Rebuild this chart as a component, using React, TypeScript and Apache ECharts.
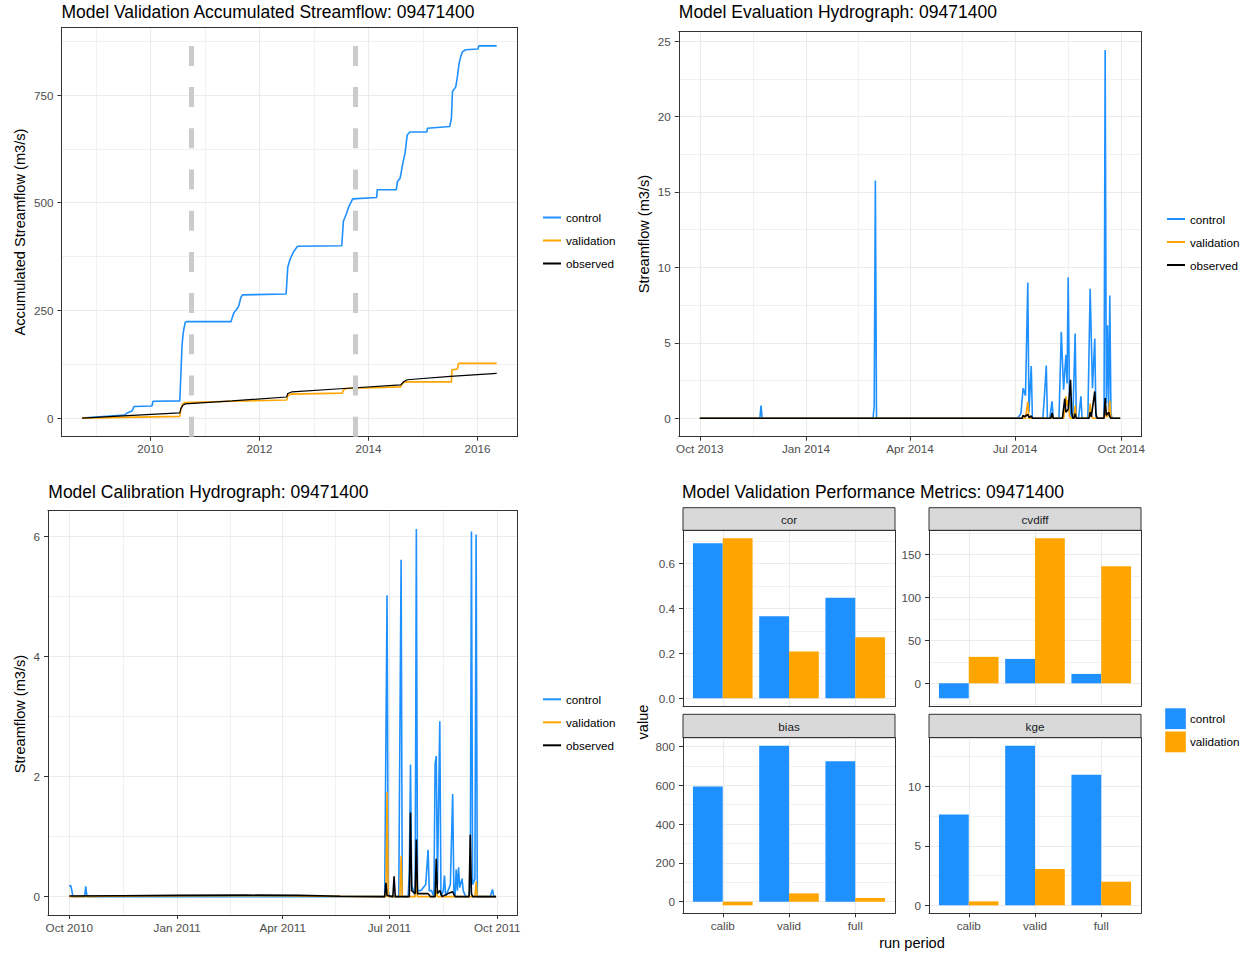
import React, { useEffect, useRef } from 'react';
import * as echarts from 'echarts';

const FONT = "'Liberation Sans', Arial, Helvetica, sans-serif";
const BLUE = '#1E90FF';
const ORANGE = '#FFA500';
const BLACK = '#000000';
const BORDER = '#333333';
const GRID = '#EBEBEB';
const TICK = '#4D4D4D';

// ---------- Panel 1: accumulated streamflow [decimal year, m3/s] ----------
const accumControl: [number, number][] = [
  [2008.75, 0], [2009.52, 7], [2009.58, 12], [2009.67, 17], [2009.70, 27], [2010.03, 28], [2010.05, 39],
  [2010.54, 40], [2010.56, 100], [2010.58, 165], [2010.60, 195], [2010.62, 210], [2010.64, 222], [2010.66, 224],
  [2011.48, 224], [2011.53, 244], [2011.58, 252], [2011.62, 260], [2011.66, 280], [2011.69, 286], [2012.49, 288],
  [2012.52, 350], [2012.56, 368], [2012.62, 385], [2012.70, 399], [2013.51, 400], [2013.54, 457], [2013.60, 476],
  [2013.64, 491], [2013.71, 509], [2014.15, 512], [2014.16, 530], [2014.51, 530], [2014.53, 549], [2014.58, 557],
  [2014.63, 592], [2014.67, 615], [2014.71, 657], [2014.76, 664], [2015.07, 664], [2015.08, 673], [2015.49, 677],
  [2015.52, 696], [2015.54, 758], [2015.60, 769], [2015.63, 792], [2015.66, 823], [2015.69, 839], [2015.72, 850],
  [2015.78, 855], [2016.01, 857], [2016.02, 864], [2016.35, 864],
];
const accumValidation: [number, number][] = [
  [2008.75, 0], [2010.54, 4], [2010.56, 20], [2010.59, 33], [2010.64, 36], [2011.5, 39], [2012.50, 42],
  [2012.52, 52], [2012.57, 55.6], [2013.52, 58], [2013.54, 65], [2013.58, 68.7], [2014.59, 72.5], [2014.62, 80],
  [2014.67, 84], [2015.52, 84], [2015.53, 112], [2015.63, 114], [2015.65, 127], [2016.35, 127],
];
const accumObserved: [number, number][] = [
  [2008.75, 0], [2009.5, 5], [2010.54, 12], [2010.56, 22], [2010.60, 30], [2010.64, 33], [2011.5, 40],
  [2012.50, 49], [2012.52, 57], [2012.60, 61], [2013.55, 68.7], [2014.59, 77], [2014.65, 85], [2014.71, 89],
  [2015.5, 97], [2016.35, 104],
];
const periodBreaks = [2010.75, 2013.75];
const accumXTicks = [2010, 2012, 2014, 2016];
const accumXMinor = [2009, 2011, 2013, 2015];
const accumYTicks = [0, 250, 500, 750];
const accumYMinor = [125, 375, 625, 875];

// ---------- Panel 2: evaluation hydrograph [date, m3/s] ----------
const evalControl: [string, number][] = [
  ['2013-10-01', 0], ['2013-11-22', 0], ['2013-11-23', 0.84], ['2013-11-24', 0],
  ['2014-02-28', 0], ['2014-03-01', 0.8], ['2014-03-02', 15.76], ['2014-03-03', 0],
  ['2014-07-03', 0], ['2014-07-06', 0.3], ['2014-07-08', 2.0], ['2014-07-10', 1.5], ['2014-07-12', 9.0],
  ['2014-07-13', 0.4], ['2014-07-15', 3.47], ['2014-07-16', 0],
  ['2014-07-25', 0], ['2014-07-26', 1.0], ['2014-07-27', 2.2], ['2014-07-28', 3.5], ['2014-07-29', 0],
  ['2014-07-31', 0], ['2014-08-02', 1.12], ['2014-08-03', 0],
  ['2014-08-08', 0], ['2014-08-10', 5.73], ['2014-08-12', 1.9], ['2014-08-14', 4.2], ['2014-08-15', 2.3],
  ['2014-08-16', 9.35], ['2014-08-17', 2.0], ['2014-08-18', 0.3], ['2014-08-20', 0], ['2014-08-22', 5.62],
  ['2014-08-23', 0], ['2014-08-25', 0], ['2014-08-27', 1.45], ['2014-08-28', 0],
  ['2014-09-02', 0], ['2014-09-04', 8.58], ['2014-09-06', 2.0], ['2014-09-08', 5.29], ['2014-09-09', 0],
  ['2014-09-16', 0], ['2014-09-17', 24.4], ['2014-09-18', 1.0], ['2014-09-19', 6.17], ['2014-09-20', 0.5],
  ['2014-09-21', 8.14], ['2014-09-22', 0.3], ['2014-09-23', 0], ['2014-09-30', 0],
];
const evalValidation: [string, number][] = [
  ['2013-10-01', 0], ['2014-07-10', 0], ['2014-07-12', 1.1], ['2014-07-13', 0],
  ['2014-08-01', 0], ['2014-08-02', 0.25], ['2014-08-03', 0],
  ['2014-08-12', 0], ['2014-08-14', 1.45], ['2014-08-15', 0.8], ['2014-08-16', 1.2], ['2014-08-17', 0.2], ['2014-08-18', 0],
  ['2014-08-21', 0], ['2014-08-22', 0.84], ['2014-08-23', 0],
  ['2014-09-03', 0], ['2014-09-04', 0.97], ['2014-09-05', 0.2], ['2014-09-06', 0],
  ['2014-09-16', 0], ['2014-09-17', 0.5], ['2014-09-18', 0.1], ['2014-09-20', 0.2], ['2014-09-21', 1.16],
  ['2014-09-22', 0], ['2014-09-30', 0],
];
const evalObserved: [string, number][] = [
  ['2013-10-01', 0], ['2014-07-07', 0], ['2014-07-08', 0.2], ['2014-07-09', 0.1], ['2014-07-12', 0.25],
  ['2014-07-13', 0.05], ['2014-07-15', 0.15], ['2014-07-16', 0],
  ['2014-08-01', 0], ['2014-08-02', 0.35], ['2014-08-03', 0],
  ['2014-08-11', 0], ['2014-08-13', 1.3], ['2014-08-14', 0.4], ['2014-08-16', 0.6], ['2014-08-18', 2.55],
  ['2014-08-19', 0.4], ['2014-08-20', 0], ['2014-08-21', 0], ['2014-08-22', 0.3], ['2014-08-23', 0],
  ['2014-09-03', 0], ['2014-09-04', 0.4], ['2014-09-05', 0.1], ['2014-09-08', 1.78], ['2014-09-09', 0.3], ['2014-09-10', 0],
  ['2014-09-16', 0], ['2014-09-17', 1.34], ['2014-09-18', 0.2], ['2014-09-20', 0.4], ['2014-09-21', 0.1],
  ['2014-09-22', 0], ['2014-09-30', 0],
];
const evalStart = '2013-10-01';
const evalEnd = '2014-09-30';
const evalXTicks = ['2013-10-01', '2014-01-01', '2014-04-01', '2014-07-01', '2014-10-01'];
const evalXMinor = ['2013-11-16', '2014-02-15', '2014-05-16', '2014-08-16'];
const evalYTicks = [0, 5, 10, 15, 20, 25];
const evalYMinor = [2.5, 7.5, 12.5, 17.5, 22.5];

// ---------- Panel 3: calibration hydrograph [date, m3/s] ----------
const calControl: [string, number][] = [
  ['2010-10-01', 0.17], ['2010-10-02', 0.19], ['2010-10-03', 0.12], ['2010-10-04', 0],
  ['2010-10-14', 0], ['2010-10-15', 0.17], ['2010-10-16', 0],
  ['2011-06-27', 0], ['2011-06-29', 5.02], ['2011-06-30', 0.1], ['2011-07-01', 0],
  ['2011-07-09', 0], ['2011-07-11', 5.61], ['2011-07-12', 0],
  ['2011-07-17', 0], ['2011-07-18', 0.4], ['2011-07-19', 2.2], ['2011-07-20', 0.2], ['2011-07-23', 0],
  ['2011-07-24', 6.12], ['2011-07-25', 0.1], ['2011-07-28', 0.1], ['2011-07-30', 0.15], ['2011-08-01', 0.2],
  ['2011-08-03', 0.78], ['2011-08-04', 0.1], ['2011-08-06', 0.1], ['2011-08-08', 0], ['2011-08-09', 2.21],
  ['2011-08-10', 2.34], ['2011-08-11', 0.2], ['2011-08-13', 2.92], ['2011-08-14', 0], ['2011-08-16', 0.1],
  ['2011-08-17', 0.35], ['2011-08-18', 0], ['2011-08-20', 0.1], ['2011-08-22', 0.2], ['2011-08-24', 1.71],
  ['2011-08-25', 0.1], ['2011-08-26', 0], ['2011-08-27', 0.45], ['2011-08-28', 0.1], ['2011-08-29', 0.49],
  ['2011-08-30', 0.15], ['2011-09-01', 0.3], ['2011-09-02', 0.1], ['2011-09-04', 0],
  ['2011-09-07', 0], ['2011-09-08', 0.2], ['2011-09-09', 6.08], ['2011-09-10', 0.2], ['2011-09-12', 0.3],
  ['2011-09-13', 6.03], ['2011-09-14', 0], ['2011-09-25', 0], ['2011-09-27', 0.12], ['2011-09-28', 0],
  ['2011-09-30', 0],
];
const calValidation: [string, number][] = [
  ['2010-10-01', 0], ['2010-12-01', 0.01], ['2011-02-01', 0.015], ['2011-04-01', 0.015], ['2011-06-01', 0],
  ['2011-06-28', 0], ['2011-06-29', 1.74], ['2011-06-30', 0],
  ['2011-07-10', 0], ['2011-07-11', 0.68], ['2011-07-12', 0],
  ['2011-07-23', 0], ['2011-07-24', 0.3], ['2011-07-25', 0],
  ['2011-08-09', 0], ['2011-08-10', 0.1], ['2011-08-11', 0],
  ['2011-09-12', 0], ['2011-09-13', 0.25], ['2011-09-14', 0], ['2011-09-30', 0],
];
const calObserved: [string, number][] = [
  ['2010-10-01', 0.01], ['2010-11-15', 0.015], ['2011-01-01', 0.02], ['2011-03-01', 0.025], ['2011-04-15', 0.02],
  ['2011-05-20', 0.005], ['2011-06-27', 0], ['2011-06-28', 0.23], ['2011-06-29', 0.02],
  ['2011-07-04', 0], ['2011-07-05', 0.34], ['2011-07-06', 0],
  ['2011-07-18', 0], ['2011-07-19', 1.4], ['2011-07-20', 0.1], ['2011-07-23', 0.05], ['2011-07-24', 0.95],
  ['2011-07-25', 0.05], ['2011-08-03', 0.05], ['2011-08-05', 0], ['2011-08-09', 0], ['2011-08-10', 0.63],
  ['2011-08-11', 0.05], ['2011-08-13', 0.1], ['2011-08-15', 0], ['2011-08-20', 0.05], ['2011-08-24', 0.08],
  ['2011-08-26', 0], ['2011-09-07', 0], ['2011-09-08', 1.03], ['2011-09-09', 0.05], ['2011-09-10', 0],
  ['2011-09-30', 0],
];
const calStart = '2010-10-01';
const calEnd = '2011-09-30';
const calXTicks = ['2010-10-01', '2011-01-01', '2011-04-01', '2011-07-01', '2011-10-01'];
const calXMinor = ['2010-11-16', '2011-02-15', '2011-05-16', '2011-08-16'];
const calYTicks = [0, 2, 4, 6];
const calYMinor = [1, 3, 5];

// ---------- Panel 4: performance metrics ----------
const runPeriods = ['calib', 'valid', 'full'];
const corControl = [0.69, 0.365, 0.447];
const corValidation = [0.712, 0.208, 0.272];
const cvdiffControl = [-17.5, 28.4, 10.9];
const cvdiffValidation = [30.8, 169, 136.5];
const biasControl = [594, 804, 724];
const biasValidation = [-18.6, 43, 19];
const kgeControl = [7.63, 13.4, 10.97];
const kgeValidation = [0.33, 3.04, 1.98];
const corTicks = [0, 0.2, 0.4, 0.6];
const corMinor = [0.1, 0.3, 0.5, 0.7];
const cvdiffTicks = [0, 50, 100, 150];
const cvdiffMinor = [-25, 25, 75, 125, 175];
const biasTicks = [0, 200, 400, 600, 800];
const biasMinor = [100, 300, 500, 700];
const kgeTicks = [0, 5, 10];
const kgeMinor = [2.5, 7.5, 12.5];

const MONTHS = ['Jan', 'Feb', 'Mar', 'Apr', 'May', 'Jun', 'Jul', 'Aug', 'Sep', 'Oct', 'Nov', 'Dec'];
const DAY = 86400000;
const ts = (s: string) => Date.parse(s + 'T00:00:00Z');
const fmtMonth = (v: number) => {
  const d = new Date(Math.round(v / DAY) * DAY);
  return MONTHS[d.getUTCMonth()] + ' ' + d.getUTCFullYear();
};
const toTs = (arr: [string, number][]) => arr.map(([d, v]) => [ts(d), v]);

function expand(lo: number, hi: number) {
  const r = hi - lo;
  return { min: lo - 0.05 * r, max: hi + 0.05 * r };
}
function dataRange(vals: number[]) {
  return expand(Math.min(0, ...vals), Math.max(0, ...vals));
}

interface AxisSpec {
  min: number;
  max: number;
  major: number[];
  minor: number[];
  fmt?: (v: number) => string;
  show: boolean;
}

function buildOption() {
  const grids: any[] = [];
  const xAxes: any[] = [];
  const yAxes: any[] = [];
  const series: any[] = [];
  const graphic: any[] = [];

  const labelStyle = { color: TICK, fontSize: 11.7, fontFamily: FONT };

  function addPanel(box: { l: number; t: number; w: number; h: number }, xs: AxisSpec, ys: AxisSpec) {
    const gi = grids.length;
    grids.push({ left: box.l, top: box.t, width: box.w, height: box.h, containLabel: false });
    const xi = xAxes.length;
    xAxes.push({
      type: 'value', gridIndex: gi, min: xs.min, max: xs.max, position: 'bottom',
      axisLine: { show: true, onZero: false, lineStyle: { color: BORDER, width: 1 } },
      axisTick: { show: xs.show, length: 4, lineStyle: { color: BORDER, width: 1 }, customValues: xs.major },
      axisLabel: { show: xs.show, customValues: xs.major, formatter: xs.fmt, margin: 6, ...labelStyle },
      splitLine: { show: true, lineStyle: { color: GRID, width: 1.1 } },
    });
    xAxes.push({
      type: 'value', gridIndex: gi, min: xs.min, max: xs.max, position: 'top',
      axisLine: { show: true, onZero: false, lineStyle: { color: BORDER, width: 1 } },
      axisTick: { show: false, customValues: xs.minor },
      axisLabel: { show: false },
      splitLine: { show: xs.minor.length > 0, lineStyle: { color: GRID, width: 0.7 } },
    });
    const yi = yAxes.length;
    yAxes.push({
      type: 'value', gridIndex: gi, min: ys.min, max: ys.max, position: 'left',
      axisLine: { show: true, onZero: false, lineStyle: { color: BORDER, width: 1 } },
      axisTick: { show: true, length: 4, lineStyle: { color: BORDER, width: 1 }, customValues: ys.major },
      axisLabel: { show: true, customValues: ys.major, formatter: ys.fmt, margin: 8, ...labelStyle },
      splitLine: { show: true, lineStyle: { color: GRID, width: 1.1 } },
    });
    yAxes.push({
      type: 'value', gridIndex: gi, min: ys.min, max: ys.max, position: 'right',
      axisLine: { show: true, onZero: false, lineStyle: { color: BORDER, width: 1 } },
      axisTick: { show: false, customValues: ys.minor },
      axisLabel: { show: false },
      splitLine: { show: ys.minor.length > 0, lineStyle: { color: GRID, width: 0.7 } },
    });
    return { xi, yi };
  }

  const line = (name: string, data: any[], color: string, xi: number, yi: number, width = 1.6, extra: any = {}) => ({
    type: 'line', name, data, xAxisIndex: xi, yAxisIndex: yi, showSymbol: false, symbol: 'none',
    lineStyle: { color, width }, itemStyle: { color }, silent: true, ...extra,
  });

  const intFmt = (v: number) => String(Math.round(v));

  // Panel 1
  const p1 = addPanel(
    { l: 61.4, t: 27.3, w: 456, h: 409.4 },
    { ...expand(2008.75, 2016.35), major: accumXTicks, minor: accumXMinor, fmt: intFmt, show: true },
    {
      ...dataRange([...accumControl, ...accumValidation, ...accumObserved].map((d) => d[1])),
      major: accumYTicks, minor: accumYMinor, fmt: intFmt, show: true,
    }
  );
  series.push(line('control', accumControl, BLUE, p1.xi, p1.yi, 1.6));
  series.push(line('validation', accumValidation, ORANGE, p1.xi, p1.yi, 1.6));
  series.push(
    line('observed', accumObserved, BLACK, p1.xi, p1.yi, 1.2, {
      markLine: {
        silent: true, symbol: 'none', z: 10,
        label: { show: false },
        lineStyle: { color: '#CBCBCB', width: 5, type: [20, 21.2] },
        emphasis: { disabled: true },
        data: periodBreaks.map((v) => ({ xAxis: v })),
      },
    })
  );

  // Panel 2
  const evAll = [...evalControl, ...evalValidation, ...evalObserved].map((d) => d[1]);
  const p2 = addPanel(
    { l: 678.8, t: 31.7, w: 462.4, h: 405 },
    { ...expand(ts(evalStart), ts(evalEnd)), major: evalXTicks.map(ts), minor: evalXMinor.map(ts), fmt: fmtMonth, show: true },
    { ...dataRange(evAll), major: evalYTicks, minor: evalYMinor, fmt: intFmt, show: true }
  );
  series.push(line('control', toTs(evalControl), BLUE, p2.xi, p2.yi));
  series.push(line('validation', toTs(evalValidation), ORANGE, p2.xi, p2.yi));
  series.push(line('observed', toTs(evalObserved), BLACK, p2.xi, p2.yi));

  // Panel 3
  const caAll = [...calControl, ...calValidation, ...calObserved].map((d) => d[1]);
  const p3 = addPanel(
    { l: 48, t: 510.7, w: 469.4, h: 404.3 },
    { ...expand(ts(calStart), ts(calEnd)), major: calXTicks.map(ts), minor: calXMinor.map(ts), fmt: fmtMonth, show: true },
    { ...dataRange(caAll), major: calYTicks, minor: calYMinor, fmt: intFmt, show: true }
  );
  series.push(line('control', toTs(calControl), BLUE, p3.xi, p3.yi));
  series.push(line('validation', toTs(calValidation), ORANGE, p3.xi, p3.yi));
  series.push(line('observed', toTs(calObserved), BLACK, p3.xi, p3.yi));

  // Panel 4 facets
  const facets = [
    { name: 'cor', ctrl: corControl, val: corValidation, major: corTicks, minor: corMinor, box: { l: 683, t: 530.3, w: 212, h: 176 }, strip: 507.7, bottom: false, fmt: (v: number) => v.toFixed(1) },
    { name: 'cvdiff', ctrl: cvdiffControl, val: cvdiffValidation, major: cvdiffTicks, minor: cvdiffMinor, box: { l: 929, t: 530.3, w: 212, h: 176 }, strip: 507.7, bottom: false, fmt: intFmt },
    { name: 'bias', ctrl: biasControl, val: biasValidation, major: biasTicks, minor: biasMinor, box: { l: 683, t: 737.7, w: 212, h: 175.6 }, strip: 714.3, bottom: true, fmt: intFmt },
    { name: 'kge', ctrl: kgeControl, val: kgeValidation, major: kgeTicks, minor: kgeMinor, box: { l: 929, t: 737.7, w: 212, h: 175.6 }, strip: 714.3, bottom: true, fmt: intFmt },
  ];
  facets.forEach((f) => {
    const yr = dataRange([...f.ctrl, ...f.val]);
    addPanel(
      f.box,
      { min: 0.4, max: 3.6, major: [1, 2, 3], minor: [], fmt: (v: number) => runPeriods[Math.round(v) - 1], show: f.bottom },
      { ...yr, major: f.major, minor: f.minor, fmt: f.fmt, show: true }
    );
    const gi = grids.length;
    const unit = f.box.w / 3.2;
    grids.push({ left: f.box.l + unit * 0.1, top: f.box.t, width: unit * 3, height: f.box.h, containLabel: false });
    const xi = xAxes.length;
    xAxes.push({ type: 'category', gridIndex: gi, data: runPeriods, show: false });
    const yi = yAxes.length;
    yAxes.push({ type: 'value', gridIndex: gi, min: yr.min, max: yr.max, show: false });
    const bar = (name: string, data: number[], color: string) => ({
      type: 'bar', name, data, xAxisIndex: xi, yAxisIndex: yi, barGap: '0%', barCategoryGap: '10%',
      itemStyle: { color }, silent: true,
    });
    series.push(bar('control', f.ctrl, BLUE));
    series.push(bar('validation', f.val, ORANGE));

    // strip
    const stripH = f.box.t - f.strip;
    graphic.push({
      type: 'rect', shape: { x: f.box.l, y: f.strip, width: f.box.w, height: stripH },
      style: { fill: '#D9D9D9', stroke: BORDER, lineWidth: 1 }, silent: true,
    });
    graphic.push({
      type: 'text', x: f.box.l + f.box.w / 2, y: f.strip + stripH / 2,
      style: { text: f.name, align: 'center', verticalAlign: 'middle', fontSize: 11.7, fontFamily: FONT, fill: '#1A1A1A' },
      silent: true,
    });
  });

  // titles
  const title = (text: string, x: number, y: number) => ({
    type: 'text', x, y, silent: true,
    style: { text, align: 'left', verticalAlign: 'middle', fontSize: 17.5, fontFamily: FONT, fill: '#000' },
  });
  graphic.push(title('Model Validation Accumulated Streamflow: 09471400', 61.4, 12));
  graphic.push(title('Model Evaluation Hydrograph: 09471400', 678.8, 12));
  graphic.push(title('Model Calibration Hydrograph: 09471400', 48.3, 492));
  graphic.push(title('Model Validation Performance Metrics: 09471400', 682, 491.5));

  // axis titles
  const vTitle = (text: string, x: number, y: number) => ({
    type: 'text', x, y, rotation: Math.PI / 2, silent: true,
    style: { text, align: 'center', verticalAlign: 'middle', fontSize: 14.6, fontFamily: FONT, fill: '#000' },
  });
  graphic.push(vTitle('Accumulated Streamflow (m3/s)', 20, 232));
  graphic.push(vTitle('Streamflow (m3/s)', 643.5, 234));
  graphic.push(vTitle('Streamflow (m3/s)', 20, 714));
  graphic.push(vTitle('value', 643, 722));
  graphic.push({
    type: 'text', x: 912, y: 942.5, silent: true,
    style: { text: 'run period', align: 'center', verticalAlign: 'middle', fontSize: 14.6, fontFamily: FONT, fill: '#000' },
  });

  // legends
  const legendItems = [
    { name: 'control', color: BLUE },
    { name: 'validation', color: ORANGE },
    { name: 'observed', color: BLACK },
  ];
  const lineLegend = (x0: number, y0: number) => {
    legendItems.forEach((it, i) => {
      const y = y0 + i * 23;
      graphic.push({
        type: 'line', shape: { x1: x0, y1: y, x2: x0 + 18, y2: y }, silent: true,
        style: { stroke: it.color, lineWidth: 2 },
      });
      graphic.push({
        type: 'text', x: x0 + 23, y, silent: true,
        style: { text: it.name, align: 'left', verticalAlign: 'middle', fontSize: 11.7, fontFamily: FONT, fill: '#000' },
      });
    });
  };
  lineLegend(543, 217.5);
  lineLegend(1167, 219);
  lineLegend(543, 699.3);

  legendItems.slice(0, 2).forEach((it, i) => {
    const y = 708.3 + i * 23.2;
    graphic.push({
      type: 'rect', shape: { x: 1165.2, y, width: 20.6, height: 20.8 }, silent: true,
      style: { fill: it.color },
    });
    graphic.push({
      type: 'text', x: 1190, y: y + 10.4, silent: true,
      style: { text: it.name, align: 'left', verticalAlign: 'middle', fontSize: 11.7, fontFamily: FONT, fill: '#000' },
    });
  });

  return {
    animation: false,
    backgroundColor: '#FFFFFF',
    textStyle: { fontFamily: FONT },
    grid: grids,
    xAxis: xAxes,
    yAxis: yAxes,
    series,
    graphic,
  };
}

export default function App() {
  const ref = useRef<HTMLDivElement>(null);
  useEffect(() => {
    document.body.style.margin = '0';
    const chart = echarts.init(ref.current as HTMLDivElement, null, { renderer: 'svg' });
    chart.setOption(buildOption() as any);
    return () => chart.dispose();
  }, []);
  return <div ref={ref} style={{ width: 1247, height: 953 }} />;
}
